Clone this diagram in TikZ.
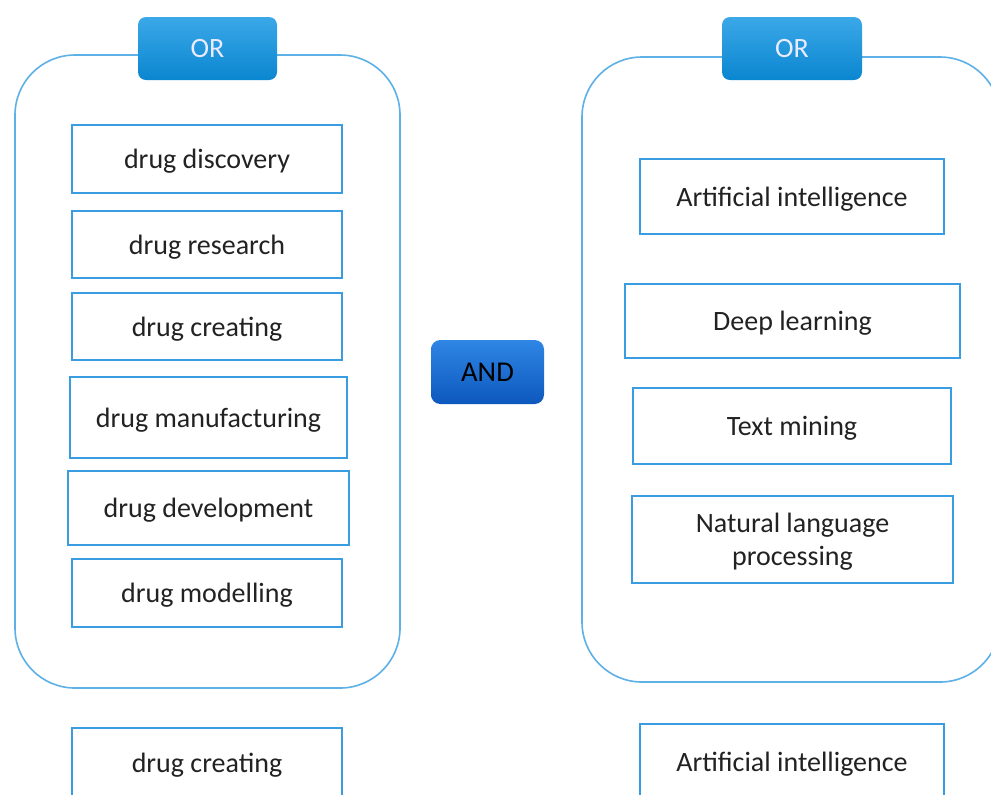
\documentclass[tikz,border=0pt]{standalone}
\usepackage{fontspec}
\setmainfont{Carlito}
\definecolor{frameblue}{HTML}{5DB1E6}
\definecolor{boxblue}{HTML}{3A9DE2}
\definecolor{ortop}{HTML}{3BA8E8}
\definecolor{orbot}{HTML}{0A86D0}
\definecolor{andtop}{HTML}{2F86E4}
\definecolor{andbot}{HTML}{0D58BE}
\definecolor{txt}{HTML}{222222}
% a node spanning the box (x1,y1)-(x2,y2), given in pixel units
\newcommand\spanbox[7]{%
  \node[#1, minimum width={(#5-#3)*0.75pt}, minimum height={(#6-#4)*0.75pt}]
    (#2) at ({(#3+#5)/2},{(#4+#6)/2}) {#7};}
\begin{document}
\begin{tikzpicture}[x=0.75pt,y=-0.75pt,
  group/.style={draw=frameblue, line width=1.2pt, rounded corners=45pt},
  term/.style={draw=boxblue, line width=1.1pt, fill=white, inner sep=0pt, align=center,
    font=\fontsize{21}{25}\selectfont, text=txt, text depth=0pt},
  ortab/.style={inner sep=0pt, rounded corners=6pt, top color=ortop, bottom color=orbot,
    draw=none, text=white!92!blue, font=\fontsize{21}{24}\selectfont},
  andtab/.style={inner sep=0pt, rounded corners=7pt, top color=andtop, bottom color=andbot,
    draw=none, text=black, font=\fontsize{21.5}{24}\selectfont}]
\useasboundingbox (0,0) rectangle (991,794);
\clip (0,0) rectangle (991,794);
\fill[white] (0,0) rectangle (991,794);

% the two OR groups
\draw[group] (15,55) rectangle (400,688);
\draw[group] (582,57) rectangle (1000,682);
\spanbox{ortab}{orL}{138}{17}{277}{80}{OR}
\spanbox{ortab}{orR}{722}{17}{862}{80}{OR}

% left group terms
\spanbox{term}{d1}{72}{125}{342}{193}{drug discovery}
\spanbox{term}{d2}{72}{211}{342}{278}{drug research}
\spanbox{term}{d3}{72}{293}{342}{360}{drug creating}
\spanbox{term}{d4}{70}{377}{347}{458}{drug manufacturing}
\spanbox{term}{d5}{68}{471}{349}{545}{drug development}
\spanbox{term}{d6}{72}{559}{342}{627}{drug modelling}

% operator between the groups
\spanbox{andtab}{and}{431}{340}{544}{404}{AND}

% right group terms
\spanbox{term}{a1}{640}{159}{944}{234}{Artificial intelligence}
\spanbox{term}{a2}{625}{284}{960}{358}{Deep learning}
\spanbox{term}{a3}{633}{388}{951}{464}{Text mining}
\spanbox{term}{a4}{632}{496}{953}{583}{Natural language\\processing}

% selected pair below
\spanbox{term}{b1}{72}{728}{342}{800}{}
\node[text=txt, font=\fontsize{21}{25}\selectfont] (b1t) at (207,765) {drug creating};
\spanbox{term}{b2}{640}{724}{944}{800}{}
\node[text=txt, font=\fontsize{21}{25}\selectfont] (b2t) at (792,764) {Artificial intelligence};
\end{tikzpicture}
\end{document}
